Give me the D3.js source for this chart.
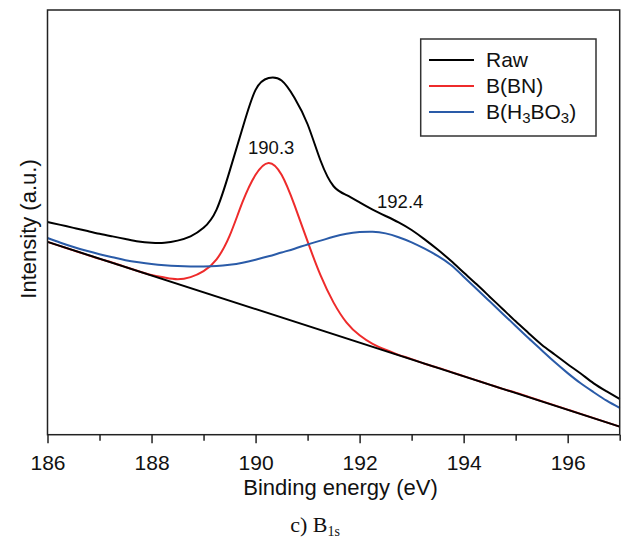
<!DOCTYPE html>
<html>
<head>
<meta charset="utf-8">
<script src="https://cdn.jsdelivr.net/npm/d3@7"></script>
<style>
  body { margin: 0; background: #fff; }
  text { font-family: "Liberation Sans", Arial, sans-serif; fill: #111; }
</style>
</head>
<body>
<svg id="chart" width="621" height="538"></svg>
<script>
// binding energy grid (eV), 0.25 eV steps, and intensities (a.u.)
var energy = [186.00, 186.25, 186.50, 186.75, 187.00, 187.25, 187.50, 187.75, 188.00, 188.25,
              188.50, 188.75, 189.00, 189.25, 189.50, 189.75, 190.00, 190.25, 190.50, 190.75,
              191.00, 191.25, 191.50, 191.75, 192.00, 192.25, 192.50, 192.75, 193.00, 193.25,
              193.50, 193.75, 194.00, 194.25, 194.50, 194.75, 195.00, 195.25, 195.50, 195.75,
              196.00, 196.25, 196.50, 196.75, 197.00];

var rawI = [501, 494, 487, 480, 473, 467, 461, 455, 452, 452,
            457, 467, 487, 530, 620, 722, 812, 840, 834, 793,
            731, 645, 585, 564, 547, 530, 515, 500, 482, 460,
            436, 410, 382, 354, 325, 296, 267, 239, 212, 189,
            166, 144, 121, 102, 84];

var bnI = [454, 444, 434, 424, 414, 405, 395, 385, 376, 370,
           366, 371, 385, 413, 468, 548, 612, 640, 612, 540,
           455, 375, 311, 264, 234, 214, 200, 188, 178, 167,
           158, 148, 138, 128, 118, 108, 99, 89, 79, 69,
           59, 49, 39, 29, 19];

var boI = [463, 452, 442, 433, 425, 418, 411, 406, 402, 399,
           397, 396, 396, 397, 400, 405, 412, 420, 429, 438,
           448, 457, 466, 473, 477, 478, 474, 465, 453, 438,
           421, 400, 372, 343, 314, 285, 256, 227, 199, 171,
           145, 121, 100, 80, 63];

// linear background
var bgE = [186.0, 197.0];
var bgI = [454, 19];

var peakLabels = [{ e: 190.3, i: 662, text: "190.3" }, { e: 192.78, i: 534, text: "192.4" }];

var majorTicks = [186, 188, 190, 192, 194, 196];
var minorTicks = [187, 189, 191, 193, 195, 197];

var legendNames = ["Raw", "B(BN)", "B(H3BO3)"];
var lineColors = ["#000000", "#ee2b2b", "#2a5ba8"];

var svg = d3.select("#chart");
var plotLeft = 47.5, plotRight = 619.7, plotTop = 10, plotBottom = 434.7;

var x = d3.scaleLinear().domain([186, 197]).range([plotLeft, plotRight]);
var y = d3.scaleLinear().domain([0, 1000]).range([plotBottom, plotTop]);

function pts(es, is) { return es.map(function(e, k) { return [e, is[k]]; }); }

var line = d3.line()
  .x(function(d) { return x(d[0]); })
  .y(function(d) { return y(d[1]); })
  .curve(d3.curveNatural);

// curves
svg.append("path").datum(pts(energy, rawI)).attr("d", line)
  .attr("fill", "none").attr("stroke", lineColors[0]).attr("stroke-width", 2);
svg.append("path").datum(pts(energy, bnI)).attr("d", line)
  .attr("fill", "none").attr("stroke", lineColors[1]).attr("stroke-width", 2);
svg.append("path").datum(pts(energy, boI)).attr("d", line)
  .attr("fill", "none").attr("stroke", lineColors[2]).attr("stroke-width", 2);
svg.append("path").datum(pts(bgE, bgI)).attr("d", line)
  .attr("fill", "none").attr("stroke", "#000").attr("stroke-width", 2);

// peak labels
svg.selectAll(".peak").data(peakLabels).enter().append("text")
  .attr("x", function(d) { return x(d.e); })
  .attr("y", function(d) { return y(d.i); })
  .attr("text-anchor", "middle")
  .attr("font-size", 18.5)
  .text(function(d) { return d.text; });

// frame
svg.append("rect")
  .attr("x", plotLeft).attr("y", plotTop)
  .attr("width", plotRight - plotLeft).attr("height", plotBottom - plotTop)
  .attr("fill", "none").attr("stroke", "#222").attr("stroke-width", 1.5);

// bottom axis
var gx = svg.append("g").attr("transform", "translate(0," + plotBottom + ")");
gx.call(d3.axisBottom(x).tickValues(majorTicks).tickSize(8.5).tickFormat(d3.format("d")));
gx.select(".domain").remove();
gx.selectAll(".tick line").attr("stroke", "#222").attr("stroke-width", 1.5);
gx.selectAll(".tick text").attr("font-size", 21).attr("dy", null).attr("y", 35)
  .attr("font-family", "Liberation Sans, Arial, sans-serif").attr("fill", "#111");

var gm = svg.append("g").attr("transform", "translate(0," + plotBottom + ")");
gm.call(d3.axisBottom(x).tickValues(minorTicks).tickSize(6).tickFormat(""));
gm.select(".domain").remove();
gm.selectAll(".tick line").attr("stroke", "#222").attr("stroke-width", 1.5);

// axis titles
svg.append("text")
  .attr("x", 340.5).attr("y", 495)
  .attr("text-anchor", "middle").attr("font-size", 22)
  .text("Binding energy (eV)");

svg.append("text")
  .attr("transform", "translate(36,229) rotate(-90)")
  .attr("text-anchor", "middle").attr("font-size", 22)
  .text("Intensity (a.u.)");

// caption
var cap = svg.append("text")
  .attr("x", 315).attr("y", 531.5)
  .attr("text-anchor", "middle")
  .style("font-family", "Liberation Serif, Times New Roman, serif")
  .attr("font-size", 22);
cap.append("tspan").text("c) B");
cap.append("tspan").attr("font-size", 14).attr("dy", 4).text("1s");

// legend
var lg = svg.append("g");
lg.append("rect")
  .attr("x", 420.7).attr("y", 39).attr("width", 175.3).attr("height", 97)
  .attr("fill", "#fff").attr("stroke", "#333").attr("stroke-width", 1.5);

legendNames.forEach(function(name, k) {
  var ry = 60 + k * 26;
  lg.append("line")
    .attr("x1", 429).attr("x2", 474).attr("y1", ry).attr("y2", ry)
    .attr("stroke", lineColors[k]).attr("stroke-width", 2);
  var t = lg.append("text").attr("x", 486).attr("y", ry + 7).attr("font-size", 21);
  if (name === "B(H3BO3)") {
    t.append("tspan").text("B(H");
    t.append("tspan").attr("font-size", 15).attr("dy", 4).text("3");
    t.append("tspan").attr("dy", -4).text("BO");
    t.append("tspan").attr("font-size", 15).attr("dy", 4).text("3");
    t.append("tspan").attr("dy", -4).text(")");
  } else {
    t.text(name);
  }
});
</script>
</body>
</html>
